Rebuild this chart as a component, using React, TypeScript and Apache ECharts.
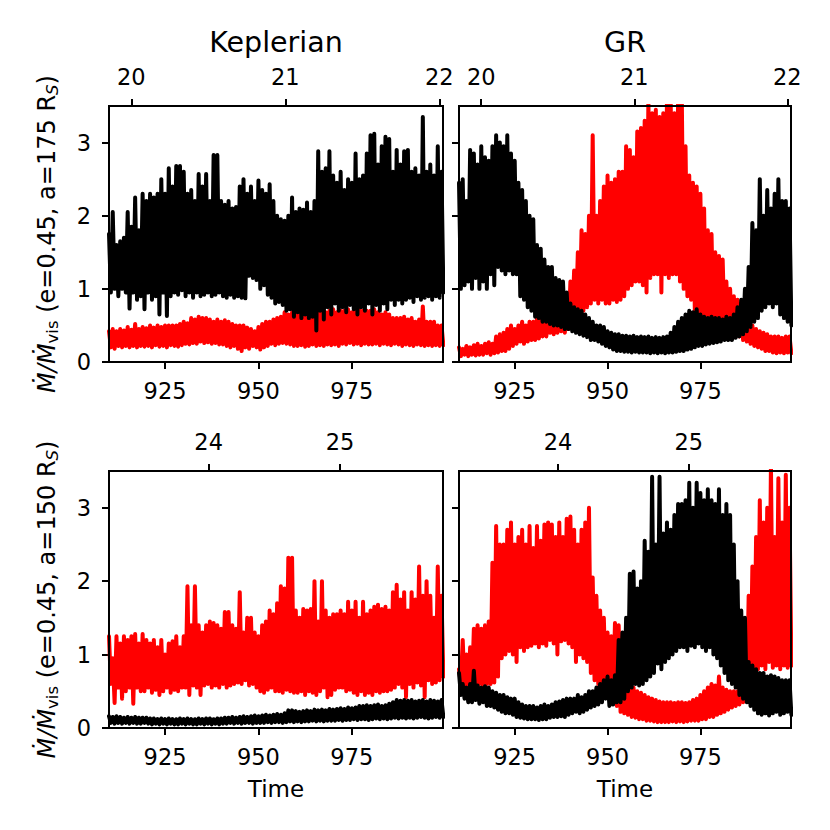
import React, { useEffect, useRef } from "react";
import * as echarts from "echarts";

// ---- data ----
// Each series is a dense oscillation: one high and one low value per time unit,
// high at t = T0 + i, low half a unit later.
const T0 = 910;
const TIME_MIN = 910;
const TIME_MAX = 999.4;
const timeTicks = [925, 950, 975];
const yTicks = [0, 1, 2, 3];
const orbitTicksTop = [20, 21, 22];
const orbitTicksBottom = [24, 25];
const orbitRangeTop = [19.855, 22.024];
const orbitRangeBottom = [23.242, 25.783];
const columnTitles = ["Keplerian", "GR"];

// Keplerian, a = 175
const kep175BlackHi = [
  1.75, 2.05, 1.6, 1.65, 1.7, 2.05, 1.85, 2.25, 1.8, 2.3,
  2.2, 2.3, 2.25, 2.3, 2.5, 2.3, 2.65, 2.4, 2.68, 2.68,
  2.6, 2.3, 2.35, 2.2, 2.57, 2.4, 2.57, 2.2, 2.83, 2.83,
  2.2, 2.15, 2.2, 2.1, 2.12, 2.4, 2.5, 2.3, 2.4, 2.2,
  2.48, 2.35, 2.3, 2.43, 2.2, 2.0, 1.95, 1.93, 2.0, 2.25,
  2.05, 2.1, 2.08, 2.18, 2.05, 2.2, 2.88, 2.6, 2.65, 2.88,
  2.55, 2.45, 2.6, 2.35, 2.5, 2.45, 2.85, 2.5, 2.55, 2.85,
  3.1, 3.12, 2.7, 2.95, 3.08, 3.05, 2.6, 2.9, 2.7, 2.88,
  2.9, 2.6, 2.65, 2.55, 3.35, 2.6, 2.7, 2.55, 2.95, 2.6,
];
const kep175BlackLo = [
  0.95, 1.0, 0.9, 1.0, 0.95, 0.73, 0.95, 0.85, 0.9, 0.72,
  0.95, 0.85, 0.9, 0.65, 0.95, 0.63, 0.9, 0.95, 0.92, 0.98,
  0.9, 0.95, 0.88, 0.95, 0.9, 0.92, 0.95, 0.9, 0.92, 0.95,
  0.9, 0.88, 0.92, 0.88, 0.9, 0.88, 0.87, 1.18, 1.15, 1.12,
  1.0, 1.05, 0.92, 0.88, 0.8, 0.82, 0.78, 0.7, 0.72, 0.62,
  0.68, 0.6, 0.65, 0.6, 0.62, 0.43, 0.7, 0.58, 0.75, 0.65,
  0.8, 0.7, 0.75, 0.68, 0.78, 0.72, 0.65, 0.75, 0.7, 0.8,
  0.65, 0.78, 0.7, 0.8, 0.72, 0.85, 0.78, 0.85, 0.8, 0.85,
  0.88, 0.82, 0.9, 0.85, 0.88, 0.9, 0.85, 0.9, 0.88, 0.95,
];
const kep175RedHi = [
  0.42, 0.45, 0.42, 0.45, 0.43, 0.48, 0.44, 0.52, 0.45, 0.48,
  0.46, 0.5, 0.47, 0.5, 0.48, 0.5, 0.5, 0.5, 0.5, 0.52,
  0.55, 0.53, 0.6, 0.58, 0.62, 0.6, 0.6, 0.58, 0.55, 0.58,
  0.55, 0.57, 0.55, 0.52, 0.5, 0.5, 0.5, 0.47, 0.45, 0.42,
  0.48, 0.52, 0.55, 0.55, 0.58, 0.6, 0.62, 0.68, 0.65, 0.68,
  0.7, 0.68, 0.65, 0.62, 0.62, 0.6, 0.68, 0.7, 0.68, 0.7,
  0.72, 0.68, 0.7, 0.7, 0.72, 0.68, 0.7, 0.72, 0.7, 0.7,
  0.7, 0.72, 0.68, 0.65, 0.68, 0.65, 0.6, 0.6, 0.6, 0.62,
  0.58, 0.6, 0.55, 0.58, 0.76, 0.55, 0.55, 0.55, 0.5, 0.5,
];
const kep175RedLo = [
  0.2, 0.18, 0.22, 0.2, 0.22, 0.2, 0.22, 0.2, 0.22, 0.21,
  0.22, 0.2, 0.23, 0.21, 0.22, 0.2, 0.23, 0.22, 0.21, 0.23,
  0.25, 0.24, 0.26, 0.25, 0.28, 0.26, 0.27, 0.25, 0.26, 0.24,
  0.24, 0.22, 0.2, 0.22, 0.18, 0.15, 0.2, 0.18, 0.22, 0.2,
  0.17, 0.2, 0.22, 0.25, 0.23, 0.25, 0.26, 0.25, 0.24, 0.22,
  0.22, 0.23, 0.21, 0.22, 0.24, 0.22, 0.23, 0.22, 0.24, 0.23,
  0.24, 0.22, 0.25, 0.24, 0.26, 0.24, 0.25, 0.23, 0.25, 0.24,
  0.24, 0.25, 0.23, 0.25, 0.24, 0.23, 0.25, 0.24, 0.22, 0.24,
  0.23, 0.22, 0.24, 0.23, 0.22, 0.23, 0.22, 0.23, 0.22, 0.23,
];

// GR, a = 175
const gr175BlackHi = [
  2.45, 2.5, 2.2, 2.9, 2.85, 2.7, 2.95, 2.8, 2.75, 2.95,
  3.1, 3.0, 2.95, 3.1, 2.85, 2.75, 2.45, 2.35, 2.2, 2.0,
  1.95, 1.6, 1.55, 1.4, 1.3, 1.3, 1.15, 1.12, 1.1, 0.95,
  0.8, 0.75, 0.72, 0.7, 0.65, 0.6, 0.55, 0.5, 0.5, 0.48,
  0.42, 0.4, 0.38, 0.38, 0.36, 0.36, 0.35, 0.36, 0.34, 0.35,
  0.34, 0.35, 0.33, 0.34, 0.33, 0.34, 0.35, 0.4, 0.48, 0.55,
  0.6, 0.65, 0.7, 0.68, 0.72, 0.65, 0.62, 0.6, 0.62, 0.6,
  0.6, 0.58, 0.62, 0.6, 0.65, 0.75, 0.85, 1.0, 1.3, 1.9,
  1.8, 2.5, 2.0, 2.35, 2.1, 2.3, 2.5, 2.2, 2.2, 2.1,
];
const gr175BlackLo = [
  1.0, 1.05, 1.1, 1.0, 1.15, 1.0, 1.1, 1.0, 1.2, 1.05,
  1.3, 1.25, 1.2, 1.25, 1.2, 1.2, 0.9, 0.85, 0.75, 0.7,
  0.62, 0.6, 0.55, 0.55, 0.52, 0.5, 0.5, 0.48, 0.45, 0.45,
  0.42, 0.4, 0.38, 0.36, 0.34, 0.3, 0.3, 0.28, 0.25, 0.22,
  0.2, 0.17, 0.15, 0.15, 0.14, 0.14, 0.13, 0.14, 0.13, 0.13,
  0.13, 0.12, 0.13, 0.12, 0.13, 0.12, 0.13, 0.13, 0.14, 0.15,
  0.15, 0.17, 0.18, 0.2, 0.22, 0.22, 0.24, 0.25, 0.26, 0.27,
  0.28, 0.3, 0.3, 0.3, 0.33, 0.35, 0.38, 0.42, 0.48, 0.55,
  0.6, 0.7, 0.75, 0.8, 0.75, 0.8, 0.65, 0.6, 0.55, 0.5,
];
const gr175RedHi = [
  0.2, 0.18, 0.22, 0.2, 0.23, 0.25, 0.22, 0.25, 0.27, 0.25,
  0.35, 0.38, 0.4, 0.45, 0.5, 0.45, 0.5, 0.55, 0.5, 0.55,
  0.55, 0.6, 0.58, 0.6, 0.55, 0.6, 0.62, 0.6, 0.6, 0.85,
  1.1, 1.25, 1.5, 1.8, 1.75, 2.0, 3.1, 2.0, 2.2, 2.4,
  2.55, 2.45, 2.5, 2.6, 2.6, 2.95, 2.9, 2.8, 3.15, 3.2,
  3.3, 3.6, 3.4, 3.45, 3.35, 3.4, 3.6, 3.6, 3.4, 3.6,
  3.6, 2.95, 2.55, 2.45, 2.4, 2.3, 2.1, 1.8, 1.75, 1.5,
  1.45, 1.4, 1.1, 1.0, 0.9, 0.85, 0.8, 0.65, 0.55, 0.5,
  0.45, 0.42, 0.4, 0.38, 0.35, 0.35, 0.35, 0.33, 0.35, 0.35,
];
const gr175RedLo = [
  0.08, 0.1, 0.08, 0.1, 0.09, 0.1, 0.1, 0.12, 0.1, 0.12,
  0.13, 0.15, 0.15, 0.18, 0.22, 0.25, 0.28, 0.25, 0.28, 0.3,
  0.3, 0.32, 0.35, 0.35, 0.4, 0.38, 0.4, 0.42, 0.4, 0.45,
  0.55, 0.6, 0.65, 0.7, 0.75, 0.8, 0.85, 0.8, 0.85, 0.8,
  0.8, 0.85, 0.82, 0.85, 0.9, 1.0, 1.05, 1.1, 1.1, 1.05,
  0.95, 1.15, 1.2, 1.2, 0.95, 1.2, 1.15, 1.2, 1.2, 1.1,
  1.0, 0.9, 0.85, 0.7, 0.6, 0.55, 0.52, 0.5, 0.5, 0.48,
  0.45, 0.45, 0.42, 0.4, 0.38, 0.35, 0.3, 0.28, 0.25, 0.22,
  0.2, 0.18, 0.15, 0.15, 0.13, 0.12, 0.13, 0.12, 0.13, 0.12,
];

// Keplerian, a = 150
const kep150BlackHi = [
  0.16, 0.15, 0.16, 0.15, 0.14, 0.15, 0.14, 0.15, 0.14, 0.14,
  0.14, 0.13, 0.13, 0.12, 0.13, 0.12, 0.13, 0.12, 0.12, 0.13,
  0.12, 0.13, 0.12, 0.12, 0.13, 0.12, 0.13, 0.13, 0.12, 0.13,
  0.13, 0.14, 0.14, 0.15, 0.14, 0.15, 0.16, 0.15, 0.16, 0.17,
  0.16, 0.17, 0.18, 0.17, 0.18, 0.19, 0.18, 0.2, 0.24, 0.24,
  0.23, 0.22, 0.23, 0.24, 0.23, 0.25, 0.24, 0.25, 0.24, 0.26,
  0.25, 0.26, 0.27, 0.26, 0.28, 0.27, 0.28, 0.3, 0.3, 0.31,
  0.3, 0.31, 0.32, 0.3, 0.31, 0.33, 0.35, 0.38, 0.37, 0.38,
  0.37, 0.38, 0.36, 0.37, 0.38, 0.36, 0.38, 0.37, 0.36, 0.38,
];
const kep150BlackLo = [
  0.07, 0.06, 0.07, 0.06, 0.07, 0.06, 0.07, 0.06, 0.06, 0.07,
  0.06, 0.05, 0.06, 0.05, 0.06, 0.05, 0.06, 0.05, 0.05, 0.06,
  0.05, 0.06, 0.05, 0.05, 0.06, 0.05, 0.06, 0.05, 0.06, 0.05,
  0.06, 0.06, 0.07, 0.06, 0.07, 0.06, 0.07, 0.07, 0.06, 0.07,
  0.07, 0.07, 0.08, 0.07, 0.08, 0.08, 0.07, 0.08, 0.09, 0.08,
  0.09, 0.08, 0.09, 0.09, 0.1, 0.09, 0.1, 0.09, 0.1, 0.1,
  0.1, 0.11, 0.1, 0.11, 0.11, 0.12, 0.11, 0.12, 0.12, 0.11,
  0.12, 0.13, 0.12, 0.13, 0.12, 0.13, 0.14, 0.13, 0.14, 0.13,
  0.14, 0.13, 0.14, 0.15, 0.14, 0.13, 0.14, 0.15, 0.14, 0.15,
];
const kep150RedHi = [
  1.25, 0.95, 1.25, 1.15, 1.25, 1.2, 1.25, 1.28, 1.15, 1.28,
  1.2, 1.15, 1.2, 1.1, 1.2, 1.0, 1.15, 1.18, 1.25, 1.1,
  1.25, 1.93, 1.4, 1.93, 1.4, 1.3, 1.4, 1.45, 1.43, 1.4,
  1.35, 1.58, 1.58, 1.4, 1.35, 1.85, 1.3, 1.5, 1.5, 1.3,
  1.25, 1.4, 1.45, 1.6, 1.55, 1.7, 1.93, 1.9, 2.32, 2.32,
  1.6, 1.5, 1.62, 1.6, 1.62, 2.0, 1.45, 2.0, 1.6, 1.5,
  1.55, 1.55, 1.6, 1.55, 1.72, 1.6, 1.72, 1.5, 1.72, 1.55,
  1.6, 1.65, 1.68, 1.62, 1.65, 1.6, 1.85, 1.95, 1.75, 1.85,
  1.6, 1.85, 1.75, 2.2, 1.8, 2.0, 1.8, 1.5, 2.2, 1.8,
];
const kep150RedLo = [
  0.6, 0.34, 0.55, 0.4, 0.5, 0.55, 0.33, 0.55, 0.5, 0.5,
  0.55, 0.48, 0.52, 0.45, 0.5, 0.55, 0.48, 0.52, 0.5, 0.55,
  0.55, 0.45, 0.58, 0.55, 0.45, 0.58, 0.6, 0.55, 0.58, 0.55,
  0.6, 0.55, 0.58, 0.6, 0.62, 0.6, 0.65, 0.58, 0.6, 0.55,
  0.5, 0.48, 0.52, 0.55, 0.5, 0.5, 0.48, 0.52, 0.5, 0.48,
  0.48, 0.5, 0.45, 0.5, 0.48, 0.45, 0.5, 0.55, 0.42, 0.45,
  0.52, 0.55, 0.55, 0.5, 0.52, 0.48, 0.45, 0.5, 0.45, 0.48,
  0.45, 0.5, 0.48, 0.5, 0.5, 0.52, 0.55, 0.6, 0.55, 0.42,
  0.6, 0.55, 0.62, 0.58, 0.42, 0.65, 0.6, 0.62, 0.65, 0.7,
];

// GR, a = 150
const gr150BlackHi = [
  0.75, 0.6, 0.55, 0.6, 0.78, 0.58, 0.55, 0.57, 0.55, 0.5,
  0.48, 0.45, 0.45, 0.42, 0.4, 0.4, 0.35, 0.32, 0.3, 0.3,
  0.3, 0.28, 0.3, 0.32, 0.3, 0.32, 0.35, 0.36, 0.38, 0.4,
  0.4, 0.4, 0.45, 0.42, 0.45, 0.5, 0.5, 0.55, 0.6, 0.65,
  0.7, 0.65, 0.72, 1.2, 1.3, 1.5, 2.1, 2.13, 1.9, 2.0,
  2.55, 2.4, 3.42, 2.5, 3.42, 2.65, 2.8, 2.7, 2.9, 3.05,
  3.05, 3.1, 3.34, 3.0, 3.34, 3.2, 3.1, 3.25, 3.1, 3.05,
  3.25, 2.9, 3.05, 2.9, 2.5, 2.0, 1.6, 1.5, 0.9, 0.85,
  0.8, 0.75, 0.75, 0.7, 0.72, 0.7, 0.68, 0.65, 0.65, 0.65,
];
const gr150BlackLo = [
  0.45, 0.4, 0.35, 0.35, 0.38, 0.33, 0.35, 0.3, 0.3, 0.28,
  0.25, 0.22, 0.2, 0.2, 0.18, 0.15, 0.14, 0.13, 0.12, 0.12,
  0.12, 0.11, 0.12, 0.12, 0.14, 0.15, 0.15, 0.16, 0.15, 0.18,
  0.2, 0.22, 0.2, 0.22, 0.25, 0.28, 0.3, 0.32, 0.35, 0.4,
  0.3, 0.32, 0.35, 0.35, 0.4, 0.5, 0.55, 0.6, 0.58, 0.6,
  0.65, 0.7, 0.75, 0.88, 0.8, 0.9, 0.95, 1.0, 1.05, 1.1,
  1.1, 1.05, 1.12, 1.1, 1.15, 1.1, 1.05, 1.1, 1.0, 0.95,
  0.85, 0.75, 0.65, 0.6, 0.55, 0.45, 0.4, 0.35, 0.3, 0.25,
  0.2, 0.18, 0.2, 0.17, 0.2, 0.22, 0.18, 0.2, 0.22, 0.18,
];
const gr150RedHi = [
  0.8, 1.2, 1.0, 1.1, 1.35, 1.4, 1.35, 1.4, 1.45, 2.25,
  2.75, 2.5, 2.5, 2.7, 2.8, 2.5, 2.6, 2.7, 2.5, 2.75,
  2.45, 2.75, 2.55, 2.77, 2.8, 2.77, 2.6, 2.8, 2.6, 2.85,
  2.88, 2.7, 2.5, 2.7, 2.8, 3.0, 2.05, 1.8, 1.6, 1.5,
  1.3, 1.25, 1.43, 1.4, 0.6, 0.58, 0.55, 0.55, 0.5, 0.48,
  0.45, 0.42, 0.4, 0.38, 0.36, 0.35, 0.35, 0.35, 0.34, 0.35,
  0.35, 0.34, 0.35, 0.38, 0.4, 0.45, 0.5, 0.55, 0.6, 0.58,
  0.7, 0.55, 0.52, 0.5, 0.5, 0.5, 0.55, 0.6, 1.8, 2.2,
  2.6, 3.1, 2.8, 3.0, 3.6, 2.6, 3.4, 2.8, 3.45, 3.0,
];
const gr150RedLo = [
  0.6, 0.55, 0.55, 0.55, 0.6, 0.6, 0.55, 0.6, 0.6, 0.62,
  0.7, 0.95, 1.0, 1.05, 1.0, 0.9, 1.1, 1.05, 1.1, 1.12,
  1.15, 1.1, 1.15, 1.12, 1.2, 1.15, 1.0, 1.18, 1.2, 1.15,
  1.1, 0.9, 1.0, 0.95, 0.9, 0.75, 0.65, 0.6, 0.6, 0.55,
  0.5, 0.4, 0.3, 0.22, 0.2, 0.18, 0.15, 0.14, 0.12, 0.12,
  0.1, 0.1, 0.09, 0.08, 0.08, 0.08, 0.08, 0.09, 0.08, 0.09,
  0.08, 0.09, 0.1, 0.1, 0.1, 0.12, 0.12, 0.15, 0.15, 0.18,
  0.2, 0.22, 0.25, 0.28, 0.3, 0.32, 0.35, 0.4, 0.6, 0.75,
  0.8, 0.85, 0.8, 0.9, 0.82, 0.85, 0.8, 0.85, 0.82, 0.85,
];

// ---- layout / styling ----
const FONT = "DejaVu Sans";
const BLACK = "#000000";
const RED = "#ff0000";
const TICK_FS = 22.5;
const LABEL_FS = 23;
const YLABEL_FS = 24;
const TITLE_FS = 28.5;
const LINE_W = 4;

const gridRects = [
  { left: 109, top: 106, width: 334, height: 256 },
  { left: 459, top: 106, width: 332, height: 256 },
  { left: 109, top: 471, width: 334, height: 257 },
  { left: 459, top: 471, width: 332, height: 257 },
];

const panelData = [
  { black: [kep175BlackHi, kep175BlackLo], red: [kep175RedHi, kep175RedLo] },
  { black: [gr175BlackHi, gr175BlackLo], red: [gr175RedHi, gr175RedLo] },
  { black: [kep150BlackHi, kep150BlackLo], red: [kep150RedHi, kep150RedLo] },
  { black: [gr150BlackHi, gr150BlackLo], red: [gr150RedHi, gr150RedLo] },
];

function zigzag(hi: number[], lo: number[]) {
  const out: number[][] = [];
  for (let i = 0; i < hi.length; i++) {
    out.push([T0 + i, hi[i]]);
    out.push([T0 + i + 0.5, lo[i]]);
  }
  return out;
}

const tickStyle = { show: true, inside: false, length: 7, lineStyle: { color: BLACK, width: 2 } };

function yName(a: string) {
  return `{m|Ṁ/Ṁ}{s|vis}{n| (e=0.45, a=${a} R}{t|S}{n|)}`;
}
const yNameRich = {
  m: { fontFamily: FONT, fontStyle: "italic", fontSize: YLABEL_FS, lineHeight: 28, color: BLACK },
  n: { fontFamily: FONT, fontSize: YLABEL_FS, lineHeight: 28, color: BLACK },
  s: { fontFamily: FONT, fontSize: 16.5, lineHeight: 16, color: BLACK, verticalAlign: "bottom" },
  t: { fontFamily: FONT, fontStyle: "italic", fontSize: 16.5, lineHeight: 16, color: BLACK, verticalAlign: "bottom" },
};

function buildOption() {
  const grid = gridRects.map((g) => ({ ...g, containLabel: false, show: false }));

  const xAxis: any[] = [];
  gridRects.forEach((_, p) => {
    const bottomRow = p >= 2;
    xAxis.push({
      type: "value",
      gridIndex: p,
      position: "bottom",
      min: TIME_MIN,
      max: TIME_MAX,
      axisLine: { show: true, onZero: false, lineStyle: { color: BLACK, width: 2 } },
      axisTick: { ...tickStyle, customValues: timeTicks },
      axisLabel: {
        show: true,
        customValues: timeTicks,
        margin: 17,
        fontSize: TICK_FS,
        fontFamily: FONT,
        color: BLACK,
      },
      splitLine: { show: false },
      name: bottomRow ? "Time" : "",
      nameLocation: "middle",
      nameGap: 49,
      nameTextStyle: { fontSize: LABEL_FS, fontFamily: FONT, color: BLACK },
    });
  });
  gridRects.forEach((_, p) => {
    const bottomRow = p >= 2;
    const ticks = bottomRow ? orbitTicksBottom : orbitTicksTop;
    const range = bottomRow ? orbitRangeBottom : orbitRangeTop;
    xAxis.push({
      type: "value",
      gridIndex: p,
      position: "top",
      min: range[0],
      max: range[1],
      axisLine: { show: true, onZero: false, lineStyle: { color: BLACK, width: 2 } },
      axisTick: { ...tickStyle, customValues: ticks },
      axisLabel: {
        show: true,
        customValues: ticks,
        margin: 18,
        fontSize: TICK_FS,
        fontFamily: FONT,
        color: BLACK,
      },
      splitLine: { show: false },
    });
  });

  const yAxis = gridRects.map((_, p) => {
    const leftCol = p % 2 === 0;
    return {
      type: "value",
      gridIndex: p,
      position: "left",
      min: 0,
      max: 3.5,
      axisLine: { show: true, onZero: false, lineStyle: { color: BLACK, width: 2 } },
      axisTick: { ...tickStyle, customValues: yTicks },
      axisLabel: {
        show: leftCol,
        customValues: yTicks,
        margin: 18,
        fontSize: TICK_FS,
        fontFamily: FONT,
        color: BLACK,
      },
      splitLine: { show: false },
      name: leftCol ? yName(p < 2 ? "175" : "150") : "",
      nameLocation: "middle",
      nameRotate: 90,
      nameGap: 48,
      nameTextStyle: { fontSize: YLABEL_FS, fontFamily: FONT, color: BLACK, rich: yNameRich },
    };
  });

  const series: any[] = [];
  panelData.forEach((pd, p) => {
    series.push({
      type: "line",
      xAxisIndex: p,
      yAxisIndex: p,
      data: zigzag(pd.red[0], pd.red[1]),
      showSymbol: false,
      symbol: "none",
      lineStyle: { color: RED, width: LINE_W, join: "round", cap: "round" },
      itemStyle: { color: RED },
      clip: true,
      z: 2,
    });
    series.push({
      type: "line",
      xAxisIndex: p,
      yAxisIndex: p,
      data: zigzag(pd.black[0], pd.black[1]),
      showSymbol: false,
      symbol: "none",
      lineStyle: { color: BLACK, width: LINE_W, join: "round", cap: "round" },
      itemStyle: { color: BLACK },
      clip: true,
      z: 3,
    });
  });

  const graphic: any[] = [];
  gridRects.forEach((g) => {
    graphic.push({
      type: "rect",
      z: 100,
      silent: true,
      shape: { x: g.left, y: g.top, width: g.width, height: g.height },
      style: { fill: "none", stroke: BLACK, lineWidth: 2 },
    });
  });
  columnTitles.forEach((t, c) => {
    const g = gridRects[c];
    graphic.push({
      type: "text",
      z: 100,
      silent: true,
      x: g.left + g.width / 2,
      y: 42,
      style: {
        text: t,
        fontSize: TITLE_FS,
        fontFamily: FONT,
        fill: BLACK,
        textAlign: "center",
        textVerticalAlign: "middle",
      },
    });
  });

  return {
    animation: false,
    backgroundColor: "#ffffff",
    textStyle: { fontFamily: FONT },
    grid,
    xAxis,
    yAxis,
    series,
    graphic,
  };
}

export default function App() {
  const ref = useRef<HTMLDivElement>(null);
  useEffect(() => {
    if (!ref.current) return;
    const chart = echarts.init(ref.current, null, { renderer: "svg" });
    chart.setOption(buildOption() as any);
    return () => chart.dispose();
  }, []);
  return (
    <div
      ref={ref}
      style={{ position: "absolute", left: 0, top: 0, width: 830, height: 830, background: "#fff" }}
    />
  );
}
